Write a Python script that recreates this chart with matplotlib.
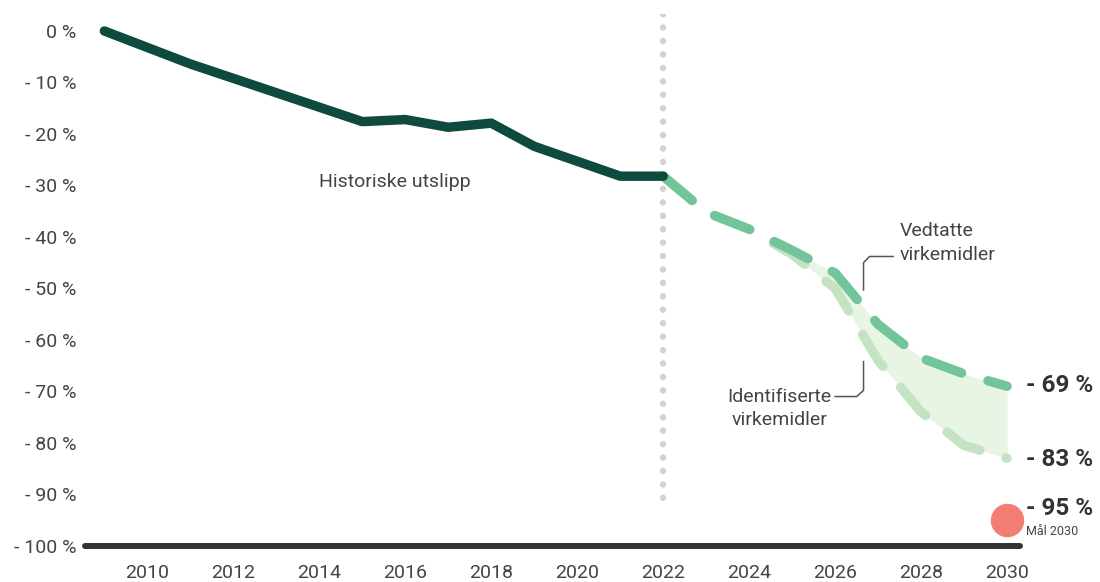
import numpy as np
import matplotlib
matplotlib.use("Agg")
import matplotlib.pyplot as plt

plt.rcParams['font.family'] = ['Roboto', 'DejaVu Sans']

# historical emissions, change vs 2009 (%)
hist_years = [2009, 2010, 2011, 2012, 2013, 2014, 2015, 2016, 2017, 2018, 2019, 2020, 2021, 2022]
hist_vals = [0, -3.2, -6.4, -9.2, -12.0, -14.8, -17.6, -17.2, -18.7, -17.9, -22.4, -25.3, -28.2, -28.2]

# projections
proj_years = [2022, 2023, 2024, 2025, 2026, 2027, 2028, 2029, 2030]
vedtatte = [-28.2, -35.2, -38.5, -42.6, -47.0, -57.0, -63.5, -66.6, -69.0]
identifiserte = [-28.2, -35.2, -38.5, -43.4, -50.0, -64.0, -74.0, -80.5, -83.0]

goal_year = 2030
goal_val = -95

y_ticks = [0, -10, -20, -30, -40, -50, -60, -70, -80, -90, -100]
y_labels = ['0 %'] + ['- %d %%' % (-v) for v in y_ticks[1:]]
x_ticks = list(range(2010, 2031, 2))

dark = '#0f4a3e'
mid = '#72c59b'
light = '#c3e3c2'
fill = '#e8f4e4'
txt = '#444444'

fig = plt.figure(figsize=(11, 5.82), dpi=100)
ax = fig.add_axes([85/1100, 1 - 551/582, (1020-85)/1100, (551-14)/582])
ax.set_xlim(2008.55, 2030.3)
ax.set_ylim(-101, 3.3)

# dotted separator at 2022
ax.plot([2022, 2022], [3.3, -93], color='#d2d2d2', lw=4.5, dashes=(0.05, 2.1),
        dash_capstyle='round', zorder=1)

# shaded range between scenarios
ax.fill_between(proj_years[3:], identifiserte[3:], vedtatte[3:], color=fill, lw=0, zorder=1)

ax.plot(proj_years, identifiserte, color=light, lw=6.8, dashes=(4.0, 2.9),
        dash_capstyle='round', zorder=2)
ax.plot(proj_years, vedtatte, color=mid, lw=6.8, dashes=(4.0, 2.9),
        dash_capstyle='round', zorder=3)
ax.plot(hist_years, hist_vals, color=dark, lw=6.8, solid_capstyle='round',
        solid_joinstyle='round', zorder=4)

ax.scatter([goal_year], [goal_val], s=580, color='#f27d72', lw=0, zorder=5, clip_on=False)

ax.axhline(-100, color='#333333', lw=4.3, solid_capstyle='round', zorder=5, clip_on=False)

for s in ax.spines.values():
    s.set_visible(False)
ax.set_yticks(y_ticks)
ax.set_yticklabels(y_labels)
ax.set_xticks(x_ticks)
ax.tick_params(length=0, labelsize=14, colors=txt)
ax.tick_params(axis='y', pad=6)
ax.tick_params(axis='x', pad=9)

# annotations
ax.text(2014.0, -29.3, 'Historiske utslipp', fontsize=14, color=txt, va='center', ha='left')
ax.text(2030.45, -68.8, '- 69 %', fontsize=17.5, fontweight='bold', color='#333333', va='center', ha='left')
ax.text(2030.45, -83.3, '- 83 %', fontsize=17.5, fontweight='bold', color='#333333', va='center', ha='left')
ax.text(2030.45, -92.8, '- 95 %', fontsize=17.5, fontweight='bold', color='#333333', va='center', ha='left')
ax.text(2030.45, -97.3, 'Mål 2030', fontsize=9, color=txt, va='center', ha='left')

ax.text(2027.5, -41.2, 'Vedtatte\nvirkemidler', fontsize=14, color=txt, va='center', ha='left',
        linespacing=1.4)
ax.plot([2027.35, 2026.8, 2026.66, 2026.66], [-43.8, -43.8, -45.0, -50.3], color='#555555', lw=1.1)

ax.text(2024.7, -73.3, 'Identifiserte\nvirkemidler', fontsize=14, color=txt, va='center', ha='center',
        linespacing=1.4)
ax.plot([2026.0, 2026.5, 2026.66, 2026.66], [-71.0, -71.0, -69.8, -64.2], color='#555555', lw=1.1)

fig.savefig('out.png', dpi=100)
